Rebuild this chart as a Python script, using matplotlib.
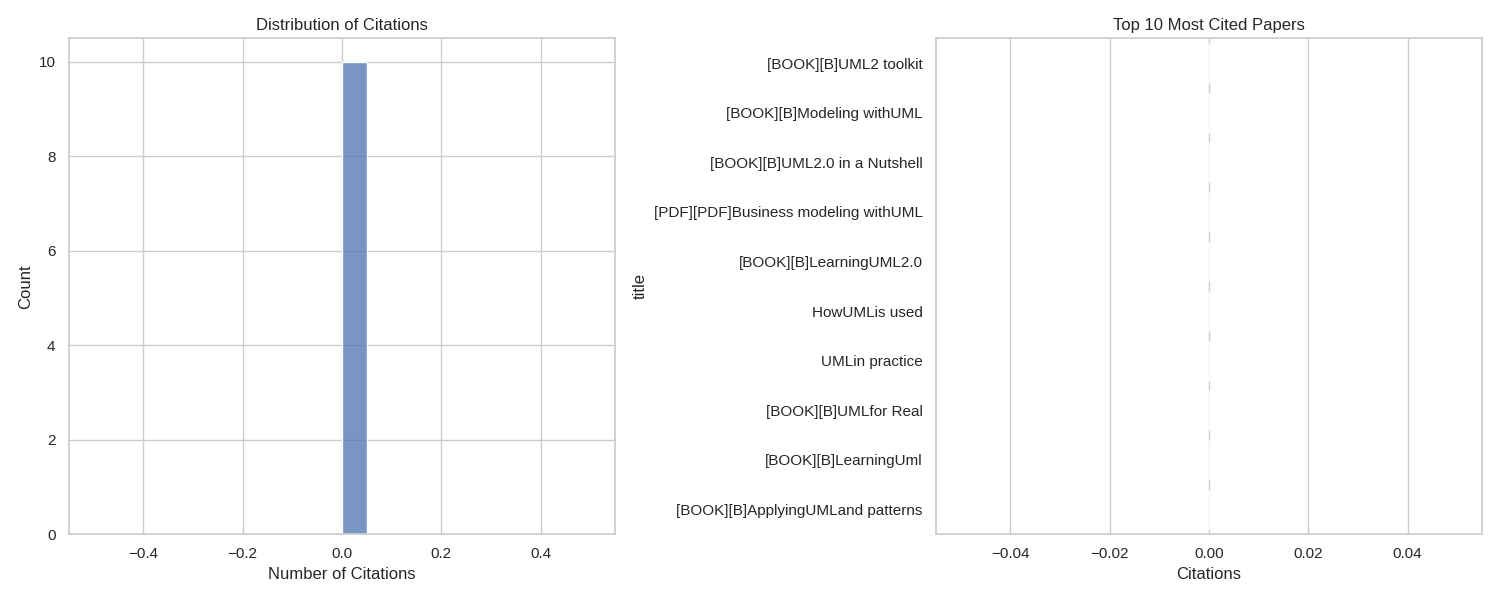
import matplotlib
matplotlib.use("Agg")
import matplotlib.pyplot as plt
import seaborn as sns
import pandas as pd

sns.set_theme(style="whitegrid")
plt.rcParams['font.family'] = ['Liberation Sans', 'DejaVu Sans']

titles = [
    "[BOOK][B]UML2 toolkit",
    "[BOOK][B]Modeling withUML",
    "[BOOK][B]UML2.0 in a Nutshell",
    "[PDF][PDF]Business modeling withUML",
    "[BOOK][B]LearningUML2.0",
    "HowUMLis used",
    "UMLin practice",
    "[BOOK][B]UMLfor Real",
    "[BOOK][B]LearningUml",
    "[BOOK][B]ApplyingUMLand patterns",
]
citations = [0, 0, 0, 0, 0, 0, 0, 0, 0, 0]

df = pd.DataFrame({"title": titles, "citations": citations})

fig, axes = plt.subplots(1, 2, figsize=(15, 6))

sns.histplot(df["citations"], bins=20, ax=axes[0])
axes[0].set_title("Distribution of Citations")
axes[0].set_xlabel("Number of Citations")
axes[0].set_ylabel("Count")

sns.barplot(data=df, x="citations", y="title", ax=axes[1])
axes[1].set_title("Top 10 Most Cited Papers")
axes[1].set_xlabel("Citations")
axes[1].set_ylabel("title")

plt.tight_layout()
plt.savefig("out.png", dpi=100)
